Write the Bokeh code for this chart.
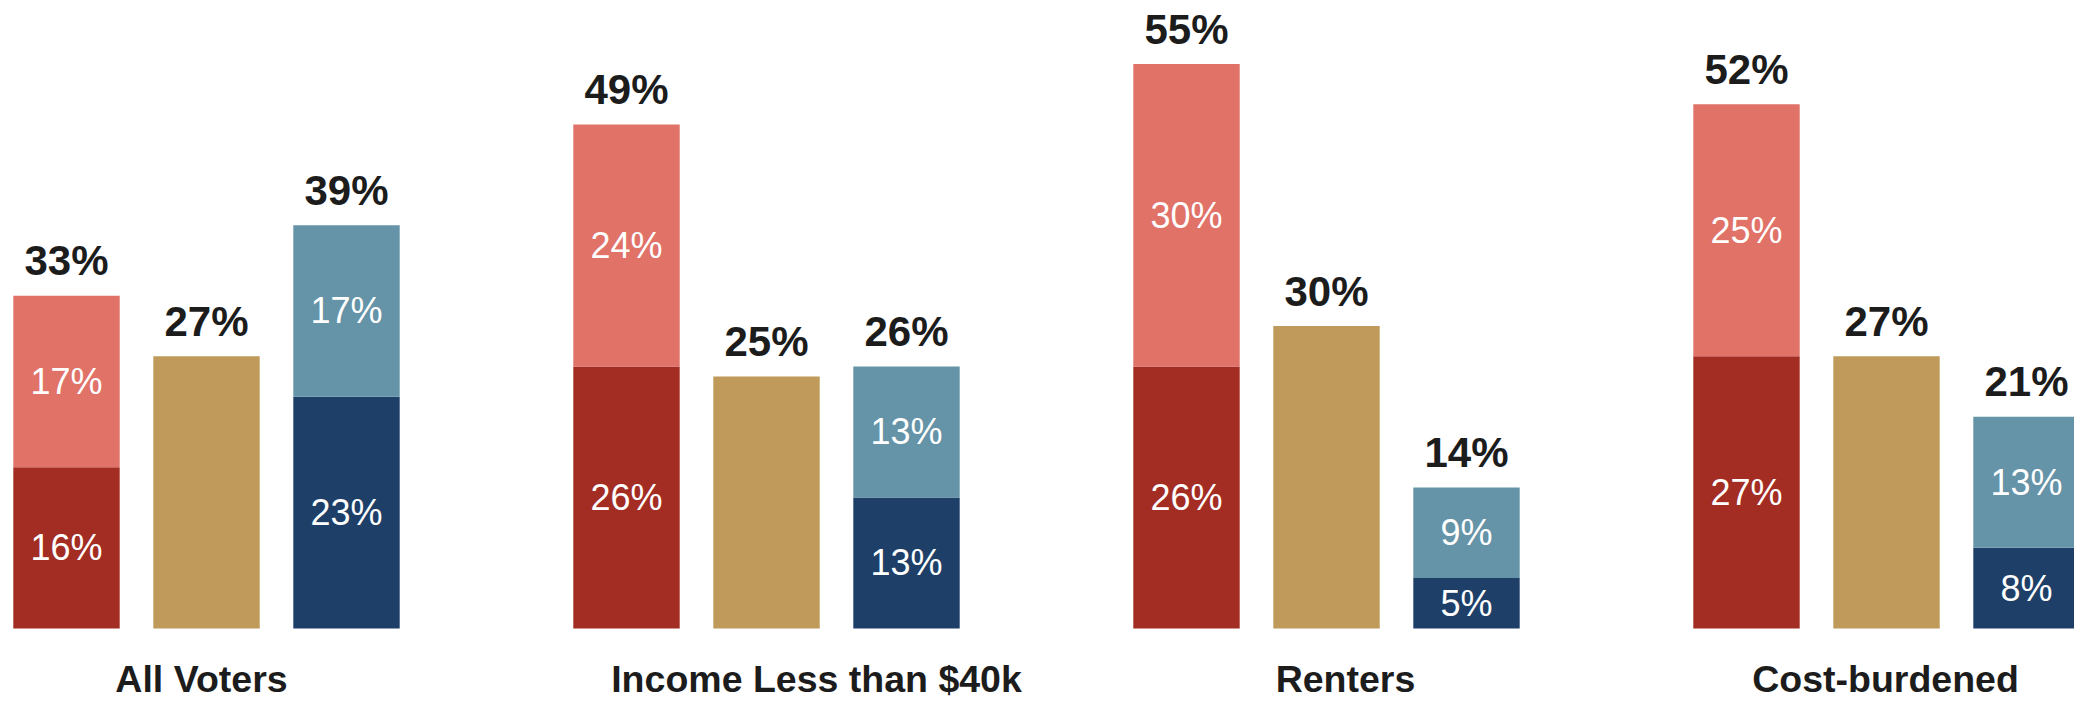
from bokeh.plotting import figure
from bokeh.models import ColumnDataSource
from bokeh.core.properties import value
from bokeh.embed import file_html
from bokeh.resources import INLINE

# ---- data ----
categories = ["All Voters", "Income Less than $40k", "Renters", "Cost-burdened"]
red_base = [16, 26, 26, 27]
red_top = [17, 24, 30, 25]
gold = [27, 25, 30, 27]
blue_base = [23, 13, 5, 8]
blue_top = [17, 13, 9, 13]
red_total = [33, 49, 55, 52]
gold_total = [27, 25, 30, 27]
blue_total = [39, 26, 14, 21]

# ---- layout / style ----
C_RED_DARK = "#A32D23"
C_RED_LIGHT = "#E07268"
C_GOLD = "#BF9A5A"
C_BLUE_DARK = "#1E3F68"
C_BLUE_LIGHT = "#6593A7"
C_TEXT = "#1c1c1c"
FONT = "Liberation Sans"
BAR_W = 0.76
GROUP_STEP = 4
label_dx_px = [-5, 50, 19, -1]

W, H = 2074, 701
px_x = 140.0
px_y = 10.08
x0 = -66 / px_x
y_top = 628 / px_y
y_bot = -(H - 628) / px_y

p = figure(width=W, height=H, output_backend="svg", toolbar_location=None,
           x_range=(x0, x0 + W / px_x), y_range=(y_bot, y_top),
           min_border=0, min_border_left=0, min_border_right=0,
           min_border_top=0, min_border_bottom=0)
p.axis.visible = False
p.grid.visible = False
p.outline_line_color = None
p.background_fill_color = "white"
p.border_fill_color = "white"

n = len(categories)
xs_red = [i * GROUP_STEP + 0 for i in range(n)]
xs_gold = [i * GROUP_STEP + 1 for i in range(n)]
xs_blue = [i * GROUP_STEP + 2 for i in range(n)]

def stack(x, base, top, c_base, c_top):
    b_top = [a + b for a, b in zip(base, top)]
    src_b = ColumnDataSource(dict(x=x, bottom=[0] * len(x), top=base,
                                  ym=[v / 2 for v in base],
                                  lab=[f"{v}%" for v in base]))
    src_t = ColumnDataSource(dict(x=x, bottom=base, top=b_top,
                                  ym=[a + b / 2 for a, b in zip(base, top)],
                                  lab=[f"{v}%" for v in top]))
    p.vbar(x="x", bottom="bottom", top="top", width=BAR_W, source=src_b,
           fill_color=c_base, line_color=None)
    p.vbar(x="x", bottom="bottom", top="top", width=BAR_W, source=src_t,
           fill_color=c_top, line_color=None)
    for s in (src_b, src_t):
        p.text(x="x", y="ym", text="lab", source=s, text_color="white",
               text_font=value(FONT), text_font_size="36px",
               text_align="center", text_baseline="middle")
    return b_top

red_heights = stack(xs_red, red_base, red_top, C_RED_DARK, C_RED_LIGHT)
blue_heights = stack(xs_blue, blue_base, blue_top, C_BLUE_DARK, C_BLUE_LIGHT)

src_g = ColumnDataSource(dict(x=xs_gold, top=gold))
p.vbar(x="x", bottom=0, top="top", width=BAR_W, source=src_g,
       fill_color=C_GOLD, line_color=None)

# totals above bars
gap = 35 / px_y
tot_src = ColumnDataSource(dict(
    x=xs_red + xs_gold + xs_blue,
    y=[v + gap for v in red_heights + gold + blue_heights],
    lab=[f"{v}%" for v in red_total + gold_total + blue_total]))
p.text(x="x", y="y", text="lab", source=tot_src, text_color=C_TEXT,
       text_font=value(FONT), text_font_size="42px", text_font_style="bold",
       text_align="center", text_baseline="middle")

# category labels
cat_src = ColumnDataSource(dict(
    x=[i * GROUP_STEP + 1 + dx / px_x for i, dx in enumerate(label_dx_px)],
    y=[-(678 - 628) / px_y] * n, lab=categories))
p.text(x="x", y="y", text="lab", source=cat_src, text_color=C_TEXT,
       text_font=value(FONT), text_font_size="37.5px", text_font_style="bold",
       text_align="center", text_baseline="middle")

open("out.html", "w").write(file_html(p, INLINE))
